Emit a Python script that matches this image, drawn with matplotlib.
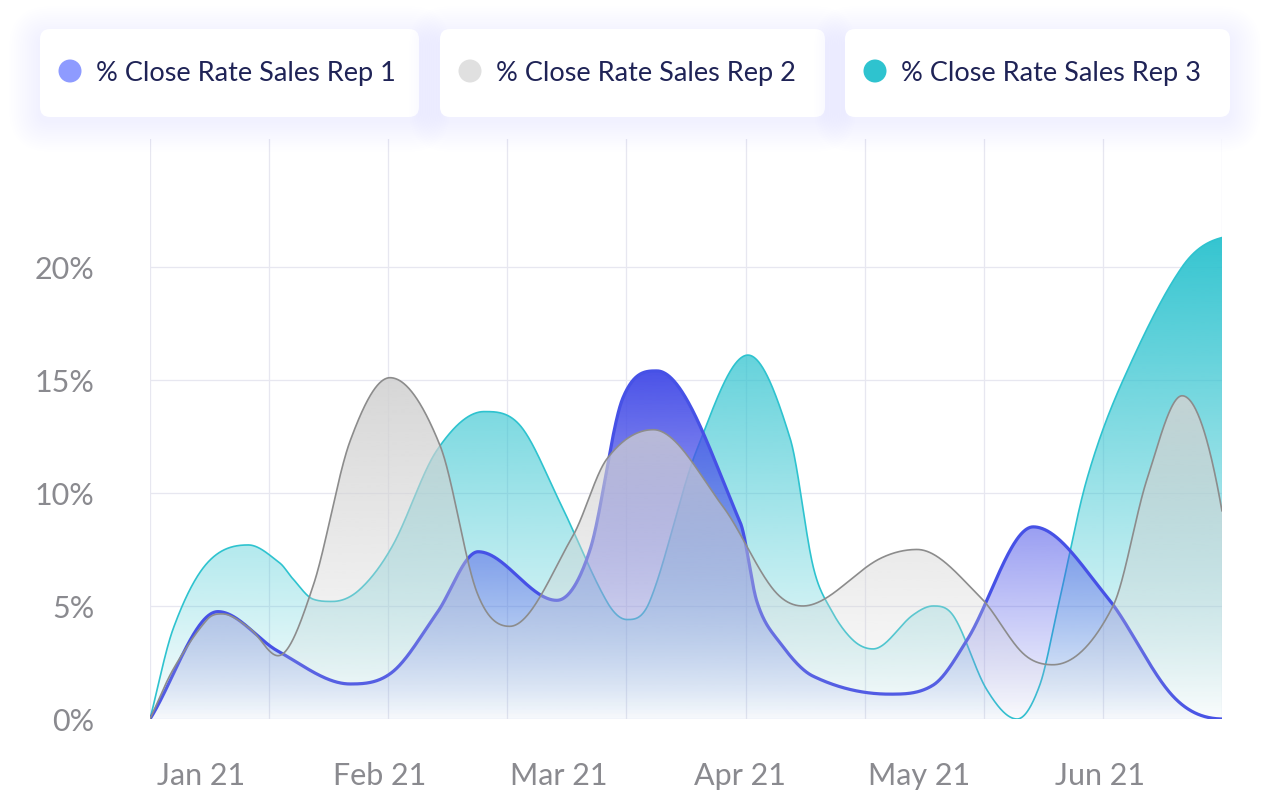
import numpy as np
import matplotlib
matplotlib.use("Agg")
import matplotlib.pyplot as plt
from matplotlib.patches import FancyBboxPatch, Circle

plt.rcParams['font.family'] = ['Lato', 'DejaVu Sans']

# ---------------- data (x in days from the left edge, y in %) ----------------
series_names = ["% Close Rate Sales Rep 1", "% Close Rate Sales Rep 2", "% Close Rate Sales Rep 3"]

rep1_x = [0, 11.4, 21.5, 33.6, 40.8, 48.2, 55.1, 68.3, 73.9, 79.4, 85.1, 99.1, 101.9, 105.4,
          111.3, 124.2, 131.5, 137.2, 148.3, 160.7, 171.8, 180]
rep1_y = [0, 4.75, 3.0, 1.55, 2.1, 4.7, 7.4, 5.25, 7.5, 14.2, 15.4, 8.7, 5.2, 3.5,
          1.9, 1.1, 1.5, 3.5, 8.5, 5.4, 1.0, 0]

rep2_x = [0, 3.9, 9.6, 12.1, 16.8, 21.5, 27.4, 33.6, 40.3, 48.7, 54.9, 60.4, 71.0, 76.7,
          84.5, 96.2, 104.6, 109.6, 122.6, 128.8, 139.4, 146.6, 151.6, 161.7, 167.4, 173.3, 180]
rep2_y = [0, 2.2, 4.4, 4.65, 4.0, 2.8, 5.9, 12.3, 15.1, 12.1, 5.6, 4.1, 8.1, 11.5,
          12.8, 9.4, 5.75, 5.0, 7.1, 7.5, 5.4, 2.9, 2.4, 5.0, 10.6, 14.3, 9.2]

rep3_x = [0, 3.9, 9.6, 16.5, 21.8, 24.0, 27.4, 30.6, 35.3, 40.8, 48.2, 56.1, 62.1, 68.8,
          76.7, 80.1, 83.9, 91.8, 100.4, 107.5, 111.3, 114.2, 118.0, 121.4, 128.1, 131.5,
          134.8, 140.5, 145.6, 149.4, 152.5, 157.3, 163.4, 173.3, 180]
rep3_y = [0, 4.0, 6.9, 7.7, 6.9, 6.2, 5.3, 5.2, 5.75, 7.7, 11.9, 13.6, 13.0, 9.6,
          5.2, 4.4, 5.2, 11.9, 16.1, 12.4, 6.8, 4.9, 3.5, 3.1, 4.6, 5.0,
          4.6, 1.3, 0.0, 1.5, 5.0, 10.6, 15.0, 20.0, 21.3]

month_labels = ["Jan 21", "Feb 21", "Mar 21", "Apr 21", "May 21", "Jun 21"]
month_pos = [8.5, 38.5, 68.7, 99.0, 129.2, 159.5]
y_ticks = [0, 5, 10, 15, 20]

# styles
line_colors = ["#4651E6", "#8C8C8C", "#2EC3CF"]
fill_colors = ["#4A52E8", "#D2D2D2", "#2EC3CF"]
marker_colors = ["#8E9BFF", "#E0E0E0", "#2EC3CF"]
line_widths = [2.3, 1.2, 1.2]
fill_alpha_top = [1.0, 0.9, 0.97]


def smooth(x, y, n=2000):
    # cubic Hermite curve through the points, Catmull-Rom style tangents,
    # flat at local peaks/valleys and limited to avoid overshoot
    x = np.asarray(x, float)
    y = np.asarray(y, float)
    h = np.diff(x)
    d = np.diff(y) / h
    m = np.zeros_like(y)
    for k in range(1, len(x) - 1):
        if d[k - 1] * d[k] > 0:
            c = (y[k + 1] - y[k - 1]) / (x[k + 1] - x[k - 1])
            lim = 3 * min(abs(d[k - 1]), abs(d[k]))
            m[k] = np.sign(c) * min(abs(c), lim)
    m[0] = d[0]
    end = ((2 * h[-1] + h[-2]) * d[-1] - h[-1] * d[-2]) / (h[-1] + h[-2])
    m[-1] = end if np.sign(end) == np.sign(d[-1]) else 0
    xs = np.linspace(x[0], x[-1], n)
    idx = np.clip(np.searchsorted(x, xs) - 1, 0, len(x) - 2)
    t = (xs - x[idx]) / h[idx]
    h00 = 2 * t**3 - 3 * t**2 + 1
    h10 = t**3 - 2 * t**2 + t
    h01 = -2 * t**3 + 3 * t**2
    h11 = t**3 - t**2
    ys = h00 * y[idx] + h10 * h[idx] * m[idx] + h01 * y[idx + 1] + h11 * h[idx] * m[idx + 1]
    return xs, np.clip(ys, 0, None)


fig = plt.figure(figsize=(12.7, 8.04), dpi=100)
fig.patch.set_facecolor("white")
ax = fig.add_axes([150 / 1270, 84 / 804, 1072 / 1270, 580 / 804])

# draw order: Rep 3 at the bottom, then Rep 1, then Rep 2 on top
order = [2, 0, 1]
data = [(rep1_x, rep1_y), (rep2_x, rep2_y), (rep3_x, rep3_y)]
for z, i in enumerate(order):
    xs, ys = smooth(*data[i])
    ymax = ys.max()
    poly = ax.fill_between(xs, 0, ys, facecolor="none", edgecolor="none")
    rgb = matplotlib.colors.to_rgb(fill_colors[i])
    grad = np.zeros((256, 1, 4))
    grad[:, 0, :3] = rgb
    grad[:, 0, 3] = np.linspace(0.02, fill_alpha_top[i], 256)
    im = ax.imshow(grad, extent=[0, 180, 0, ymax], origin="lower", aspect="auto",
                   interpolation="bilinear", zorder=3 + 2 * z)
    im.set_clip_path(poly.get_paths()[0], transform=ax.transData)
    ax.plot(xs, ys, color=line_colors[i], lw=line_widths[i], zorder=4 + 2 * z,
            solid_capstyle="round")

ax.set_xlim(0, 180)
ax.set_ylim(0, 25.66)
ax.set_xticks(np.arange(0, 181, 20))
ax.set_xticklabels([])
ax.set_xticks(month_pos, minor=True)
ax.set_xticklabels(month_labels, minor=True)
ax.set_yticks(y_ticks)
ax.set_yticklabels([f"{v}%" for v in y_ticks])
ax.tick_params(axis="both", which="both", length=0, labelsize=22, labelcolor="#8A8A8F")
ax.tick_params(axis="x", which="minor", pad=30)
ax.tick_params(axis="y", pad=40)
ax.grid(True, which="major", color="#E7E7F0", lw=0.9, zorder=1)
ax.set_axisbelow(True)
for s in ax.spines.values():
    s.set_visible(False)

# ---------------- legend boxes ----------------
ov = fig.add_axes([0, 0, 1, 1], zorder=10)
ov.set_xlim(0, 1270)
ov.set_ylim(804, 0)
ov.axis("off")
ov.patch.set_alpha(0)

boxes = [(40, 419), (440, 825), (845, 1230)]
for (x0, x1), name, mc in zip(boxes, series_names, marker_colors):
    # soft lavender shadow
    for k in range(14):
        grow = 2.2 * (k + 1)
        ov.add_patch(FancyBboxPatch((x0 - grow, 30 - grow + 8), x1 - x0 + 2 * grow,
                                    88 + 2 * grow - 4,
                                    boxstyle=f"round,pad=0,rounding_size={10 + grow}",
                                    facecolor="#8080FF", edgecolor="none", alpha=0.0025))
    ov.add_patch(FancyBboxPatch((x0, 30), x1 - x0, 88, boxstyle="round,pad=0,rounding_size=10",
                                facecolor="white", edgecolor="none"))
    ov.add_patch(Circle((x0 + 30, 72), 11.5, facecolor=mc, edgecolor="none"))
    ov.text(x0 + 56, 73, name, fontsize=19.5, color="#1F2356", va="center", ha="left")

fig.savefig("out.png", dpi=100, facecolor="white")
